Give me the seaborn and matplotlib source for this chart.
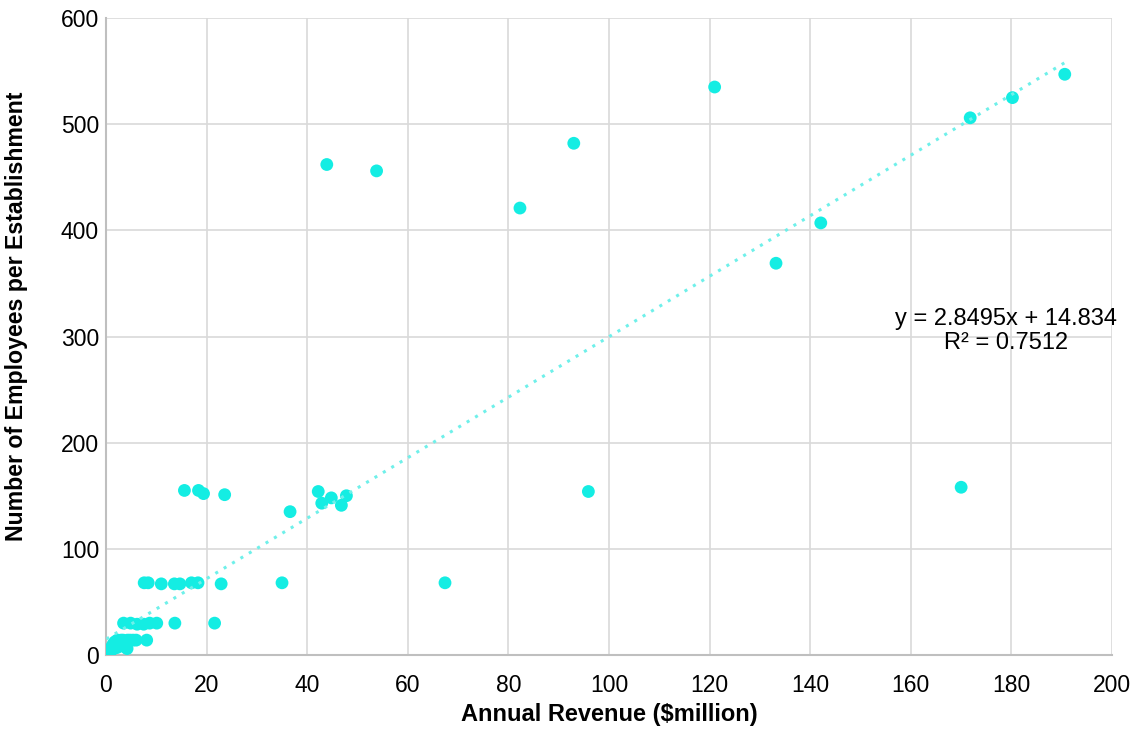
import matplotlib
matplotlib.use("Agg")
import matplotlib.pyplot as plt
import seaborn as sns
import numpy as np
import pandas as pd

# Annual revenue ($million) and employees per establishment
revenue = [190.6, 180.2, 171.8, 121.0, 93.0, 82.3, 43.9, 53.8, 133.2, 142.1,
           170.0, 95.9, 67.4, 35.0, 36.6, 42.2, 42.9, 44.8, 46.8, 47.8,
           23.6, 15.6, 18.4, 19.4,
           7.6, 8.4, 11.0, 13.6, 14.7, 17.0, 18.3, 22.9,
           3.5, 4.9, 6.2, 7.5, 8.7, 10.1, 13.7, 21.6,
           8.1,
           0.1, 0.2, 0.3, 0.4, 0.6, 0.8, 1.0, 1.2, 1.4, 1.7, 2.0, 2.3, 2.6,
           3.0, 3.4, 3.8, 4.3, 4.8, 5.4, 6.0, 1.5, 2.2, 2.9, 3.6, 4.2, 0.9, 1.8]
employees = [547, 525, 506, 535, 482, 421, 462, 456, 369, 407,
             158, 154, 68, 68, 135, 154, 143, 148, 141, 150,
             151, 155, 155, 152,
             68, 68, 67, 67, 67, 68, 68, 67,
             30, 30, 29, 29, 30, 30, 30, 30,
             14,
             1, 2, 3, 2, 4, 5, 6, 8, 10, 12, 13, 14, 13,
             14, 14, 13, 14, 14, 14, 14, 6, 7, 9, 8, 6, 3, 10]

x_ticks = [0, 20, 40, 60, 80, 100, 120, 140, 160, 180, 200]
y_ticks = [0, 100, 200, 300, 400, 500, 600]

slope = 2.8495
intercept = 14.834
r_squared = 0.7512

df = pd.DataFrame({"Revenue": revenue, "Employees": employees})

sns.set_theme(style="whitegrid")
plt.rcParams['font.family'] = ['Liberation Sans', 'DejaVu Sans']

fig = plt.figure(figsize=(11.38, 7.32), dpi=100)
ax = fig.add_axes([0.0931, 0.1052, 0.9772 - 0.0931, 0.9754 - 0.1052])

sns.scatterplot(data=df, x="Revenue", y="Employees", ax=ax, color="#14EDE3",
                s=85, edgecolor="none", linewidth=0, zorder=3)

xs = np.array([min(revenue), max(revenue)])
ax.plot(xs, slope * xs + intercept, linestyle=(0, (1, 2.2)), color="#6FF0EA",
        linewidth=2.2, zorder=4)

ax.text(179, 305, f"y = {slope}x + {intercept}\nR² = {r_squared}",
        ha="center", va="center", fontsize=17, color="#000000",
        linespacing=1.1, zorder=5)

ax.set_xlim(0, 200)
ax.set_ylim(0, 600)
ax.set_xticks(x_ticks)
ax.set_yticks(y_ticks)
ax.tick_params(axis="both", labelsize=16.5, colors="#000000", length=0)
ax.tick_params(axis="x", pad=14)
ax.tick_params(axis="y", pad=5)
ax.grid(True, color="#D9D9D9", linewidth=1.2)
ax.set_axisbelow(True)
for side in ["top", "right"]:
    ax.spines[side].set_visible(False)
for side in ["left", "bottom"]:
    ax.spines[side].set_color("#BFBFBF")
    ax.spines[side].set_linewidth(1.5)

ax.set_xlabel("Annual Revenue ($million)", fontsize=17, fontweight="bold",
              color="#000000", labelpad=4)
ax.set_ylabel("Number of Employees per Establishment", fontsize=16.7,
              fontweight="bold", color="#000000")
ax.yaxis.set_label_coords(-0.0775, 0.531)

fig.savefig("out.png", dpi=100, facecolor="white")
